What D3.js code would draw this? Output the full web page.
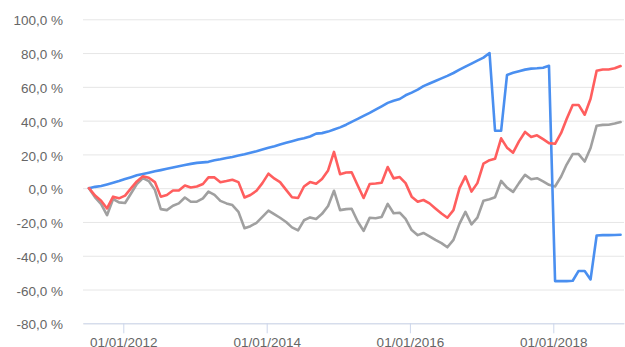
<!DOCTYPE html>
<html>
<head>
<meta charset="utf-8">
<script src="https://cdn.jsdelivr.net/npm/d3@7"></script>
<style>
  html, body { margin: 0; padding: 0; background: #fff; }
  svg { display: block; font-family: "Liberation Sans", Arial, sans-serif; }
</style>
</head>
<body>
<svg id="chart" width="625" height="347"></svg>
<script>
// Monthly observations, July 2011 to December 2018 (cumulative change, %)
const startMonth = new Date(2011, 6, 10);

const blueSeries = [
  0, 0.8, 1.3, 2.2, 3.2, 4.2, 5.4, 6.5, 7.6, 8.4,
  9.2, 10, 10.7, 11.5, 12.3, 13, 13.7, 14.4, 15, 15.3,
  15.6, 16.5, 17.1, 17.9, 18.5, 19.3, 20.1, 21, 21.9, 22.9,
  23.9, 24.9, 25.9, 26.9, 27.8, 28.8, 29.6, 30.6, 32.3, 32.6,
  33.5, 34.7, 36, 37.6, 39.3, 41, 42.8, 44.6, 46.5, 48.5,
  50.5, 51.8, 52.8, 55, 56.6, 58.4, 60.4, 62, 63.5, 65,
  66.5, 68.2, 70.2, 72, 73.8, 75.5, 77.3, 80, 34, 34,
  67, 68.3, 69.3, 70.2, 70.8, 71, 71.3, 72.5, -55, -55,
  -55, -54.8, -49, -49, -54, -28, -27.8, -27.8, -27.7, -27.6
];

const redSeries = [
  0, -4.4, -7.4, -12, -5, -6, -4.4, 0, 4, 7,
  6.2, 3.6, -5, -4, -1.4, -1.4, 1.6, 0.4, 1, 2.5,
  6.4, 6.4, 3.5, 4.2, 5, 3.6, -5.5, -4, -1.5, 3,
  8.6, 5.6, 3.6, -1, -5.4, -5.8, 1, 3.6, 2.6, 5.4,
  10.5, 21.5, 8.3, 9.3, 9.4, 1.6, -5.8, 2.5, 2.8, 3.2,
  12.5, 5.8, 6.6, 3, -5, -8, -7, -9, -12, -15,
  -17.5, -13, 0, 7, -2, 3, 14.6, 16.6, 17.4, 29.5,
  24, 21, 27.7, 33.3, 30.3, 31.3, 29, 26.7, 26.3, 32.7,
  41, 49.3, 49.3, 43.5, 53, 69.5, 70.3, 70.3, 71, 72.3
];

const greySeries = [
  0, -5.4, -9.4, -16, -6.4, -8.4, -8.8, -3, 2.5, 6,
  4.2, -1, -12.4, -13, -10.4, -9, -5.5, -8, -8, -6,
  -2, -4, -7.5, -9, -10, -14, -23.7, -22.5, -20.5, -17,
  -13.3, -15.5, -17.5, -20, -23.2, -25, -19, -17.3, -18.2, -15.2,
  -10.5, -1.5, -13, -12.4, -12.2, -19.7, -25.3, -17.5, -17.8, -17,
  -9.3, -14.8, -14.5, -18.2, -24.8, -27.8, -26.5, -28.5, -30.6, -32.5,
  -35, -30.6, -21, -14, -21.4, -17.4, -7.4, -6.6, -5.4, 4.3,
  0.3, -2.2, 3, 7.9, 5.3, 5.9, 4, 2, 1, 6.9,
  14, 20.2, 20.2, 15.8, 23.8, 37, 37.5, 37.6, 38.3, 39.2
];

const yTickValues = [-80, -60, -40, -20, 0, 20, 40, 60, 80, 100];
const xTickYears = [2012, 2014, 2016, 2018];

const dates = blueSeries.map((_, i) => d3.timeMonth.offset(startMonth, i));

const svg = d3.select("#chart");

// x: time scale anchored on the yearly ticks, then widened to the plot edges
const x = d3.scaleTime()
  .domain([new Date(2012, 0, 1), new Date(2018, 0, 1)])
  .range([123.3, 553.3]);
x.domain([x.invert(83), x.invert(624)]).range([83, 624]);

const y = d3.scaleLinear().domain([-80, 100]).range([323.3, 19.3]);

const locale = d3.formatLocale({
  decimal: ",", thousands: " ", grouping: [3], currency: ["", " €"], minus: "-"
});
const fmtPct = v => locale.format(".1f")(v) + " %";

// horizontal gridlines + value labels
const yAxis = d3.axisLeft(y)
  .tickValues(yTickValues)
  .tickSize(-(624 - 83))
  .tickFormat(fmtPct)
  .tickPadding(20);

const gy = svg.append("g").attr("transform", "translate(83,0)").call(yAxis);
gy.select(".domain").remove();
gy.selectAll(".tick line").attr("stroke", "#e6e6e6").attr("stroke-width", 1);
gy.selectAll(".tick text")
  .attr("fill", "#666")
  .attr("font-size", "13.5px")
  .attr("font-family", "Liberation Sans, Arial, sans-serif")
  .attr("dy", "0.42em");

// bottom axis with date labels
const xAxis = d3.axisBottom(x)
  .tickValues(xTickYears.map(yr => new Date(yr, 0, 1)))
  .tickFormat(d3.timeFormat("%d/%m/%Y"))
  .tickSize(10)
  .tickSizeOuter(0)
  .tickPadding(4);

const gx = svg.append("g").attr("transform", `translate(0,${y(-80)})`).call(xAxis);
gx.select(".domain").attr("stroke", "#ccd6eb").attr("stroke-width", 1);
gx.selectAll(".tick line").attr("stroke", "#ccd6eb");
gx.selectAll(".tick text")
  .attr("fill", "#666")
  .attr("font-size", "13.5px")
  .attr("font-family", "Liberation Sans, Arial, sans-serif");

// series lines
const line = d3.line()
  .x((d, i) => x(dates[i]))
  .y(d => y(d));

const series = [
  { values: greySeries, color: "#a0a0a0" },
  { values: blueSeries, color: "#4a8ff0" },
  { values: redSeries, color: "#ff5e5e" }
];

svg.append("g").selectAll("path")
  .data(series)
  .join("path")
  .attr("d", s => line(s.values))
  .attr("fill", "none")
  .attr("stroke", s => s.color)
  .attr("stroke-width", 2.6)
  .attr("stroke-linejoin", "round")
  .attr("stroke-linecap", "round");
</script>
</body>
</html>
